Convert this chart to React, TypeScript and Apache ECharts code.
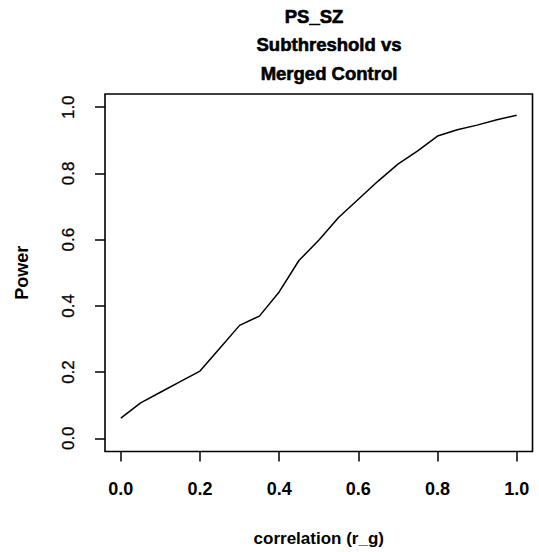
import React, { useEffect, useRef } from "react";
import * as echarts from "echarts";

const correlation = [0, 0.05, 0.1, 0.15, 0.2, 0.25, 0.3, 0.35, 0.4, 0.45, 0.5, 0.55, 0.6, 0.65, 0.7, 0.75, 0.8, 0.85, 0.9, 0.95, 1.0];
const power = [0.061, 0.107, 0.139, 0.171, 0.203, 0.272, 0.341, 0.369, 0.442, 0.537, 0.598, 0.667, 0.722, 0.777, 0.828, 0.868, 0.913, 0.932, 0.946, 0.962, 0.976];
const tickValues = [0, 0.2, 0.4, 0.6, 0.8, 1.0];
const titleLines = ["PS_SZ", "Subthreshold vs", "Merged Control"];

const FONT = "'Liberation Sans', Arial, Helvetica, sans-serif";

export default function App() {
  const ref = useRef<HTMLDivElement>(null);
  useEffect(() => {
    if (!ref.current) return;
    const chart = echarts.init(ref.current, null, { renderer: "svg" });
    const titleX = [314, 329, 329];
    const titleTop = [7, 35, 63.5];
    chart.setOption({
      animation: false,
      backgroundColor: "#ffffff",
      title: titleLines.map((t, i) => ({
        text: t,
        left: titleX[i],
        top: titleTop[i],
        textAlign: "center",
        padding: 0,
        textStyle: {
          fontFamily: FONT,
          fontWeight: "bold",
          fontSize: 18.5,
          color: "#000",
          textBorderColor: "#000",
          textBorderWidth: 0.6,
        },
      })),
      grid: {
        left: 105,
        top: 94,
        width: 427.5,
        height: 357.5,
        show: true,
        borderColor: "#000",
        borderWidth: 1.6,
        backgroundColor: "transparent",
      },
      xAxis: {
        type: "value",
        min: -0.04,
        max: 1.04,
        name: "correlation (r_g)",
        nameLocation: "middle",
        nameGap: 78,
        nameTextStyle: { fontFamily: FONT, fontWeight: "bold", fontSize: 17, color: "#000" },
        axisLine: { show: false, onZero: false },
        splitLine: { show: false },
        axisTick: {
          show: true,
          length: 10,
          customValues: tickValues,
          lineStyle: { color: "#000", width: 1.5 },
        },
        axisLabel: {
          customValues: tickValues,
          margin: 28,
          fontFamily: FONT,
          fontWeight: "bold",
          fontSize: 18,
          color: "#000",
          formatter: (v: number) => v.toFixed(1),
        },
      },
      yAxis: {
        type: "value",
        min: -0.04,
        max: 1.04,
        name: "Power",
        nameLocation: "middle",
        nameGap: 74,
        nameTextStyle: { fontFamily: FONT, fontWeight: "bold", fontSize: 18, color: "#000" },
        axisLine: { show: false, onZero: false },
        splitLine: { show: false },
        axisTick: {
          show: true,
          length: 10,
          customValues: tickValues,
          lineStyle: { color: "#000", width: 1.5 },
        },
        axisLabel: {
          customValues: tickValues,
          rotate: 90,
          margin: 28,
          fontFamily: FONT,
          fontSize: 17,
          color: "#000",
          textBorderColor: "#000",
          textBorderWidth: 0.3,
          formatter: (v: number) => v.toFixed(1),
        },
      },
      series: [
        {
          type: "line",
          data: correlation.map((x, i) => [x, power[i]]),
          showSymbol: false,
          symbol: "none",
          lineStyle: { color: "#000", width: 1.5 },
        },
      ],
    });
    return () => chart.dispose();
  }, []);
  return <div ref={ref} style={{ width: 539, height: 552, position: "absolute", left: 0, top: 0 }} />;
}
